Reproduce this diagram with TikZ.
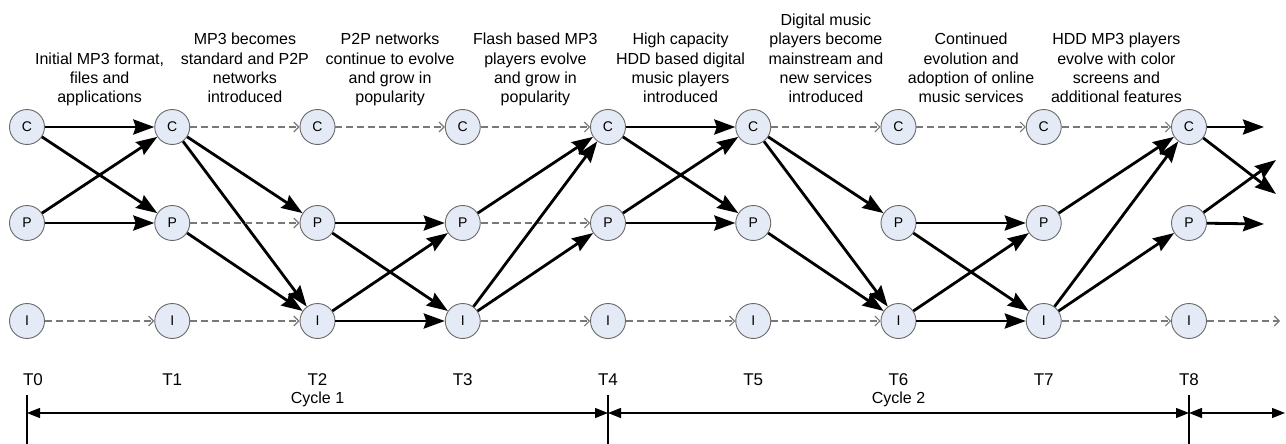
\documentclass[tikz,border=0pt]{standalone}
\usepackage{fontspec}
\setmainfont{Liberation Sans}
\usetikzlibrary{arrows.meta}
\definecolor{statefill}{RGB}{228,234,246}
\definecolor{stateline}{RGB}{105,105,105}
\definecolor{idlegray}{RGB}{120,120,120}

\begin{document}
\begin{tikzpicture}[x=1pt,y=-1pt,
  state/.style={circle,draw=stateline,fill=statefill,line width=0.9pt,minimum size=35pt,inner sep=0pt,font=\fontsize{14}{16}\selectfont},
  desc/.style={align=center,anchor=south,inner sep=0pt,text depth=4pt,font=\fontsize{16}{19.3}\selectfont},
  tlabel/.style={inner sep=0pt,font=\fontsize{17}{20}\selectfont},
  flow/.style={line width=2.8pt,-{Stealth[length=21pt,width=15pt,inset=2.5pt]}},
  idle/.style={idlegray,line width=1.1pt,dash pattern=on 7pt off 4pt,-{Straight Barb[length=5pt,width=10pt]}},
  cyc/.style={line width=1.3pt,{Triangle[length=13pt,width=10pt]}-{Triangle[length=13pt,width=10pt]}},
  tick/.style={line width=1.3pt}]

\useasboundingbox (0,0) rectangle (1286,444);

\node[desc] (d1) at (99.6,107) {Initial MP3 format,\\files and\\applications};
\node[desc] (d2) at (244.9,107) {MP3 becomes\\standard and P2P\\networks\\introduced};
\node[desc] (d3) at (390.1,107) {P2P networks\\continue to evolve\\and grow in\\popularity};
\node[desc] (d4) at (535.4,107) {Flash based MP3\\players evolve\\and grow in\\popularity};
\node[desc] (d5) at (680.6,107) {High capacity\\HDD based digital\\music players\\introduced};
\node[desc] (d6) at (825.9,107) {Digital music\\players become\\mainstream and\\new services\\introduced};
\node[desc] (d7) at (971.1,107) {Continued\\evolution and\\adoption of online\\music services};
\node[desc] (d8) at (1116.4,107) {HDD MP3 players\\evolve with color\\screens and\\additional features};

\node[state] (c0) at (27,127) {C};
\node[state] (p0) at (27,223) {P};
\node[state] (i0) at (27,321) {I};
\node[state] (c1) at (172.25,127) {C};
\node[state] (p1) at (172.25,223) {P};
\node[state] (i1) at (172.25,321) {I};
\node[state] (c2) at (317.5,127) {C};
\node[state] (p2) at (317.5,223) {P};
\node[state] (i2) at (317.5,321) {I};
\node[state] (c3) at (462.75,127) {C};
\node[state] (p3) at (462.75,223) {P};
\node[state] (i3) at (462.75,321) {I};
\node[state] (c4) at (608,127) {C};
\node[state] (p4) at (608,223) {P};
\node[state] (i4) at (608,321) {I};
\node[state] (c5) at (753.25,127) {C};
\node[state] (p5) at (753.25,223) {P};
\node[state] (i5) at (753.25,321) {I};
\node[state] (c6) at (898.5,127) {C};
\node[state] (p6) at (898.5,223) {P};
\node[state] (i6) at (898.5,321) {I};
\node[state] (c7) at (1043.75,127) {C};
\node[state] (p7) at (1043.75,223) {P};
\node[state] (i7) at (1043.75,321) {I};
\node[state] (c8) at (1189,127) {C};
\node[state] (p8) at (1189,223) {P};
\node[state] (i8) at (1189,321) {I};

\draw[flow] (c0) -- (c1);
\draw[flow] (c0) -- (p1);
\draw[flow] (p0) -- (c1);
\draw[flow] (p0) -- (p1);
\draw[idle] (i0) -- (i1);

\draw[idle] (c1) -- (c2);
\draw[flow] (c1) -- (p2);
\draw[flow] (c1) -- (i2);
\draw[idle] (p1) -- (p2);
\draw[flow] (p1) -- (i2);
\draw[idle] (i1) -- (i2);

\draw[idle] (c2) -- (c3);
\draw[flow] (p2) -- (p3);
\draw[flow] (p2) -- (i3);
\draw[flow] (i2) -- (p3);
\draw[flow] (i2) -- (i3);

\draw[idle] (c3) -- (c4);
\draw[flow] (p3) -- (c4);
\draw[idle] (p3) -- (p4);
\draw[flow] (i3) -- (c4);
\draw[flow] (i3) -- (p4);
\draw[idle] (i3) -- (i4);

\draw[flow] (c4) -- (c5);
\draw[flow] (c4) -- (p5);
\draw[flow] (p4) -- (c5);
\draw[flow] (p4) -- (p5);
\draw[idle] (i4) -- (i5);

\draw[idle] (c5) -- (c6);
\draw[flow] (c5) -- (p6);
\draw[flow] (c5) -- (i6);
\draw[flow] (p5) -- (i6);
\draw[idle] (i5) -- (i6);

\draw[idle] (c6) -- (c7);
\draw[flow] (p6) -- (p7);
\draw[flow] (p6) -- (i7);
\draw[flow] (i6) -- (p7);
\draw[flow] (i6) -- (i7);

\draw[idle] (c7) -- (c8);
\draw[flow] (p7) -- (c8);
\draw[flow] (i7) -- (c8);
\draw[flow] (i7) -- (p8);
\draw[idle] (i7) -- (i8);

\coordinate (o1) at (1264,127);
\coordinate (o2) at (1276,194);
\coordinate (o3) at (1276,160);
\coordinate (o4) at (1264,224);
\coordinate (o5) at (1280,321);
\draw[flow] (c8) -- (o1);
\draw[flow] (c8) -- (o2);
\draw[flow] (p8) -- (o3);
\draw[flow] (p8) -- (o4);
\draw[idle] (i8) -- (o5);

\node[tlabel] (t0) at (33,380) {T0};
\node[tlabel] (t1) at (172.25,380) {T1};
\node[tlabel] (t2) at (317.5,380) {T2};
\node[tlabel] (t3) at (462.75,380) {T3};
\node[tlabel] (t4) at (608,380) {T4};
\node[tlabel] (t5) at (753.25,380) {T5};
\node[tlabel] (t6) at (898.5,380) {T6};
\node[tlabel] (t7) at (1043.75,380) {T7};
\node[tlabel] (t8) at (1189,380) {T8};

\coordinate (v0a) at (27,395);
\coordinate (v0b) at (27,444);
\coordinate (v4a) at (608,395);
\coordinate (v4b) at (608,444);
\coordinate (v8a) at (1189,395);
\coordinate (v8b) at (1189,444);
\draw[tick] (v0a) -- (v0b);
\draw[tick] (v4a) -- (v4b);
\draw[tick] (v8a) -- (v8b);

\coordinate (k0) at (27,413);
\coordinate (k4) at (608,413);
\coordinate (k8) at (1189,413);
\coordinate (k9) at (1285,413);
\draw[cyc] (k0) -- (k4);
\draw[cyc] (k4) -- (k8);
\draw[cyc] (k8) -- (k9);

\node[tlabel,font=\fontsize{16}{19}\selectfont] (y1) at (317.5,399) {Cycle 1};
\node[tlabel,font=\fontsize{16}{19}\selectfont] (y2) at (898.5,399) {Cycle 2};

\end{tikzpicture}
\end{document}
